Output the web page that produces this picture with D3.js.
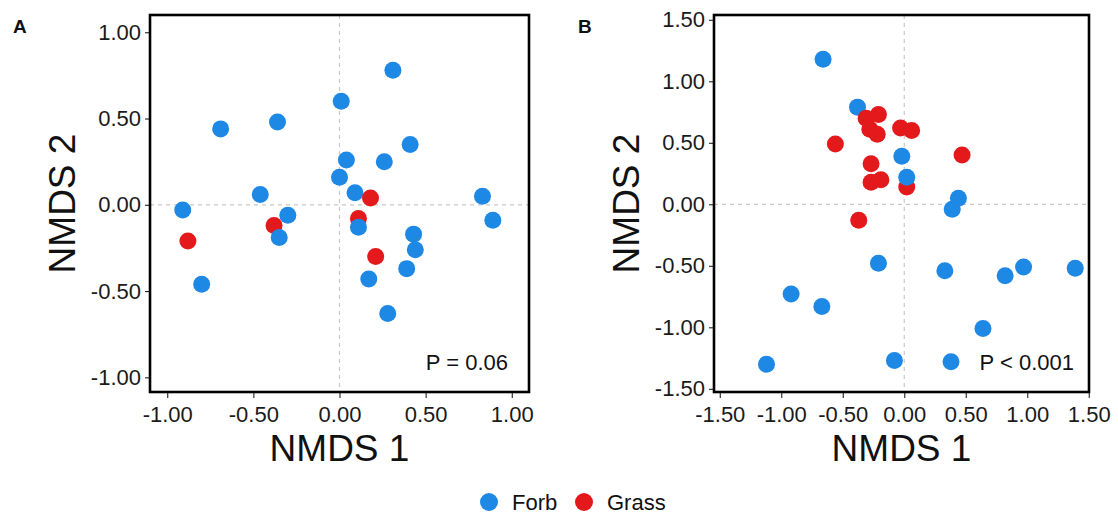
<!DOCTYPE html>
<html>
<head>
<meta charset="utf-8">
<script src="https://cdn.jsdelivr.net/npm/d3@7"></script>
<style>
  html, body { margin: 0; padding: 0; background: #fff; }
  svg { display: block; font-family: "Liberation Sans", Arial, sans-serif; }
</style>
</head>
<body>
<svg id="chart" width="1118" height="514"></svg>
<script>
// Plant functional groups and their colours
const groups = ["Forb", "Grass"];
const groupColors = ["#1e88e5", "#e3191c"];

// Panel A ordination scores (drawn in this order)
const aNMDS1 = [-0.38, 0.11, -0.88, 0.21,
  0.31, 0.01, -0.69, -0.36, 0.41, 0.04, 0.26, 0.00, 0.09, 0.83, -0.46,
  -0.91, -0.80, -0.30, -0.35, 0.11, 0.17, 0.28, 0.43, 0.44, 0.39, 0.89,
  0.18];
const aNMDS2 = [-0.12, -0.08, -0.21, -0.30,
  0.78, 0.60, 0.44, 0.48, 0.35, 0.26, 0.25, 0.16, 0.07, 0.05, 0.06,
  -0.03, -0.46, -0.06, -0.19, -0.13, -0.43, -0.63, -0.17, -0.26, -0.37, -0.09,
  0.04];
const aGroup = ["Grass", "Grass", "Grass", "Grass",
  "Forb", "Forb", "Forb", "Forb", "Forb", "Forb", "Forb", "Forb", "Forb", "Forb", "Forb",
  "Forb", "Forb", "Forb", "Forb", "Forb", "Forb", "Forb", "Forb", "Forb", "Forb", "Forb",
  "Grass"];

// Panel B ordination scores (drawn in this order)
const bNMDS1 = [-0.38,
  -0.31, -0.21, -0.28, -0.22, -0.03, 0.06, -0.56, 0.47, -0.27, -0.27, -0.19, 0.02, -0.37,
  -0.66, -0.02, 0.02, 0.39, 0.44, -0.21, 0.33, 0.82, 0.97, 1.39, -0.92, -0.67, 0.64,
  -1.12, -0.08, 0.38];
const bNMDS2 = [0.79,
  0.70, 0.73, 0.61, 0.57, 0.62, 0.60, 0.49, 0.40, 0.33, 0.18, 0.20, 0.14, -0.13,
  1.18, 0.39, 0.22, -0.04, 0.05, -0.48, -0.54, -0.58, -0.51, -0.52, -0.73, -0.83, -1.01,
  -1.30, -1.27, -1.28];
const bGroup = ["Forb",
  "Grass", "Grass", "Grass", "Grass", "Grass", "Grass", "Grass", "Grass", "Grass", "Grass", "Grass", "Grass", "Grass",
  "Forb", "Forb", "Forb", "Forb", "Forb", "Forb", "Forb", "Forb", "Forb", "Forb", "Forb", "Forb", "Forb",
  "Forb", "Forb", "Forb"];

// Axis tick values
const aTicks = [-1.0, -0.5, 0.0, 0.5, 1.0];
const bTicks = [-1.5, -1.0, -0.5, 0.0, 0.5, 1.0, 1.5];

const svg = d3.select("#chart");
const fmt = d3.formatLocale({ decimal: ".", thousands: ",", grouping: [3], currency: ["", ""], minus: "-" }).format(".2f");
const color = d3.scaleOrdinal().domain(groups).range(groupColors);

function drawPanel(opt) {
  const x = d3.scaleLinear().domain(opt.xDomain).range([opt.left, opt.right]);
  const y = d3.scaleLinear().domain(opt.yDomain).range([opt.bottom, opt.top]);
  const g = svg.append("g");

  // zero reference lines
  g.append("line")
    .attr("x1", x(0)).attr("x2", x(0)).attr("y1", opt.top).attr("y2", opt.bottom)
    .attr("stroke", "#c8c8c8").attr("stroke-width", 1.2).attr("stroke-dasharray", "4,4");
  g.append("line")
    .attr("x1", opt.left).attr("x2", opt.right).attr("y1", y(0)).attr("y2", y(0))
    .attr("stroke", "#c8c8c8").attr("stroke-width", 1.2).attr("stroke-dasharray", "4,4");

  // points
  const idx = d3.range(opt.nx.length);
  g.append("g").selectAll("circle").data(idx).join("circle")
    .attr("cx", i => x(opt.nx[i]))
    .attr("cy", i => y(opt.ny[i]))
    .attr("r", 8.5)
    .attr("fill", i => color(opt.grp[i]));

  // axes
  const xa = g.append("g").attr("transform", `translate(0,${opt.bottom})`)
    .call(d3.axisBottom(x).tickValues(opt.xTicks).tickFormat(fmt).tickSize(6).tickPadding(8));
  const ya = g.append("g").attr("transform", `translate(${opt.left},0)`)
    .call(d3.axisLeft(y).tickValues(opt.yTicks).tickFormat(fmt).tickSize(5).tickPadding(4));
  [xa, ya].forEach(a => {
    a.select(".domain").remove();
    a.selectAll(".tick line").attr("stroke", "#222").attr("stroke-width", 1.1);
    a.selectAll(".tick text").attr("fill", "#1a1a1a").style("font-size", "22px")
      .style("font-family", '"Liberation Sans", Arial, sans-serif');
  });

  // panel frame
  g.append("rect")
    .attr("x", opt.left).attr("y", opt.top)
    .attr("width", opt.right - opt.left).attr("height", opt.bottom - opt.top)
    .attr("fill", "none").attr("stroke", "#000").attr("stroke-width", 2.6);

  // axis titles
  g.append("text")
    .attr("x", (opt.left + opt.right) / 2).attr("y", 461)
    .attr("text-anchor", "middle").style("font-size", "37px").attr("fill", "#111")
    .text("NMDS 1");
  g.append("text")
    .attr("transform", `translate(${opt.left - 75},${(opt.top + opt.bottom) / 2}) rotate(-90)`)
    .attr("text-anchor", "middle").style("font-size", "37px").attr("fill", "#111")
    .text("NMDS 2");

  // significance note
  g.append("text")
    .attr("x", opt.pX).attr("y", 370)
    .attr("text-anchor", "end").style("font-size", "22px").attr("fill", "#111")
    .text(opt.pText);

  // panel tag
  svg.append("text")
    .attr("x", opt.tagX).attr("y", 33)
    .style("font-size", "19px").style("font-weight", "bold").attr("fill", "#111")
    .text(opt.tag);
}

drawPanel({
  left: 150, right: 529, top: 15, bottom: 392,
  xDomain: [-1.1, 1.1], yDomain: [-1.085, 1.1],
  xTicks: aTicks, yTicks: aTicks,
  nx: aNMDS1, ny: aNMDS2, grp: aGroup,
  pText: "P = 0.06", pX: 508, tag: "A", tagX: 13
});

drawPanel({
  left: 714, right: 1089, top: 15, bottom: 392,
  xDomain: [-1.547, 1.502], yDomain: [-1.526, 1.539],
  xTicks: bTicks, yTicks: bTicks,
  nx: bNMDS1, ny: bNMDS2, grp: bGroup,
  pText: "P < 0.001", pX: 1074, tag: "B", tagX: 578
});

// legend
const legend = svg.append("g").attr("transform", "translate(489,502)");
const legendX = [0, 95];
groups.forEach((grp, i) => {
  const item = legend.append("g").attr("transform", `translate(${legendX[i]},0)`);
  item.append("circle").attr("r", 9).attr("fill", color(grp));
  item.append("text").attr("x", 23).attr("y", 8)
    .style("font-size", "22px").attr("fill", "#111").text(grp);
});
</script>
</body>
</html>
